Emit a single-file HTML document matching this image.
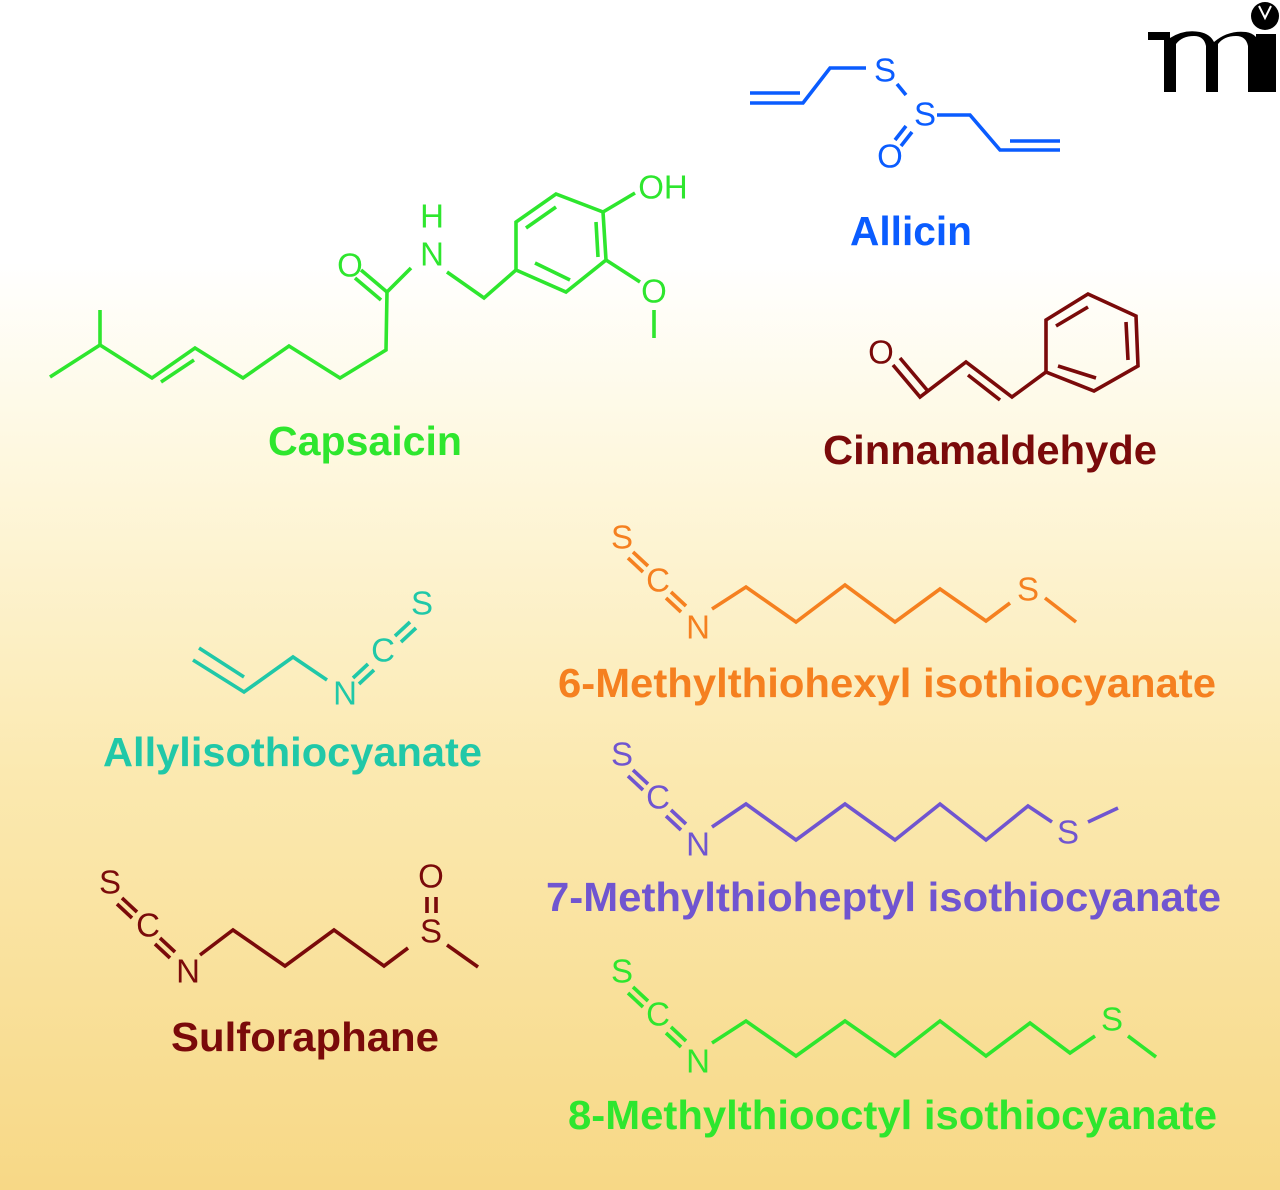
<!DOCTYPE html>
<html><head><meta charset="utf-8"><style>
html,body{margin:0;padding:0}
body{width:1280px;height:1190px;overflow:hidden;background:linear-gradient(to bottom,#ffffff 0%,#ffffff 22%,#fef8e0 38%,#fbe9b0 65%,#f7d886 100%)}
svg{display:block}
.a{font-family:"Liberation Sans",sans-serif;font-size:33px;text-anchor:middle;dominant-baseline:central}
.l{font-family:"Liberation Sans",sans-serif;font-size:41px;font-weight:bold}
</style></head><body>
<svg width="1280" height="1190" viewBox="0 0 1280 1190" fill="none" stroke-width="3.6" stroke-linejoin="miter" stroke-linecap="butt">
<!-- logo -->
<g fill="#000" stroke="none">
<path d="M1148,32 h22 v6 q14,-9 30,-6 q10,2 14,10 q14,-12 32,-10 q12,2 14,14 v46 h-12 v-46 q-2,-10 -12,-10 q-12,0 -18,8 v48 h-12 v-46 q-2,-10 -12,-10 q-12,0 -18,8 v48 h-12 v-52 h-16z"/>
<rect x="1256" y="34" width="20" height="58"/>
<circle cx="1265" cy="16" r="14"/>
</g>
<path d="M1259,6 l6,12 l6,-12" stroke="#fff" stroke-width="2"/>
<!-- Allicin -->
<g stroke="#0a5cff">
<path d="M750,103 H803 L830,68 H866"/><path d="M750,93 H800"/>
<path d="M897,84 L906,95"/>
<path d="M937,115 H970 L1000,150 H1060"/><path d="M1010,141 H1060"/>
<path d="M906,126 L895,140 M912,132 L901,146"/>
</g>
<g fill="#0a5cff" class="a"><text x="885" y="70">S</text><text x="925" y="114">S</text><text x="890" y="156">O</text></g>
<text class="l" x="850" y="245" textLength="122" lengthAdjust="spacingAndGlyphs" fill="#0a5cff">Allicin</text>
<!-- Capsaicin -->
<g stroke="#2ee62e">
<path d="M50,377 L100,345 L152,378 L195,348 L243,378 L289,346 L340,378 L386,350 L387,292 L411,268"/>
<path d="M100,345 V310"/><path d="M161,382 L194,360"/>
<path d="M387,292 L361,270 M381,300 L355,278"/>
<path d="M447,272 L484,298 L516,270"/>
<path d="M516,270 L516,222 L556,194 L603,212 L606,260 L566,292 Z"/>
<path d="M526,228 L556,207 M596,222 L598,257 M570,280 L535,263"/>
<path d="M603,212 L635,193 M606,260 L640,282 M654,310 V338"/>
</g>
<g fill="#2ee62e" class="a"><text x="432" y="254">N</text><text x="432" y="216">H</text><text x="350" y="265">O</text><text x="663" y="187">OH</text><text x="654" y="291">O</text></g>
<text class="l" x="268" y="455" textLength="194" lengthAdjust="spacingAndGlyphs" fill="#2ee62e">Capsaicin</text>
<!-- Cinnamaldehyde -->
<g stroke="#7a0a0a">
<path d="M893,365 L920,397 L966,362 L1012,397 L1046,372"/>
<path d="M1046,372 L1046,320 L1088,294 L1136,316 L1138,366 L1094,391 Z"/>
<path d="M900,358 L927,390"/><path d="M968,375 L1000,400"/>
<path d="M1056,326 L1088,307 M1126,322 L1128,360 M1096,378 L1058,366"/>
</g>
<text class="a" x="881" y="352" fill="#7a0a0a">O</text>
<text class="l" x="823" y="464" textLength="334" lengthAdjust="spacingAndGlyphs" fill="#7a0a0a">Cinnamaldehyde</text>
<!-- Allylisothiocyanate -->
<g stroke="#20c8a8">
<path d="M193,660 L244,692 L293,657 L327,680"/><path d="M199,648 L244,677"/>
<path d="M353,678 L368,664 M359,684 L374,670"/>
<path d="M395,636 L410,622 M401,642 L416,628"/>
</g>
<g fill="#20c8a8" class="a"><text x="345" y="693">N</text><text x="383" y="650">C</text><text x="422" y="603">S</text></g>
<text class="l" x="103" y="766" textLength="379" lengthAdjust="spacingAndGlyphs" fill="#20c8a8">Allylisothiocyanate</text>
<!-- Sulforaphane -->
<g stroke="#7a0a0a">
<path d="M122,898 L137,912 M117,904 L132,918"/>
<path d="M160,938 L175,952 M155,944 L170,958"/>
<path d="M200,955 L233,930 L285,966 L334,930 L384,966 L408,948"/>
<path d="M447,945 L478,967"/>
<path d="M427,897 V913 M436,897 V913"/>
</g>
<g fill="#7a0a0a" class="a"><text x="110" y="882">S</text><text x="148" y="925">C</text><text x="188" y="971">N</text><text x="431" y="931">S</text><text x="431" y="876">O</text></g>
<text class="l" x="171" y="1051" textLength="268" lengthAdjust="spacingAndGlyphs" fill="#7a0a0a">Sulforaphane</text>
<!-- 6-Methylthiohexyl -->
<g stroke="#f58020">
<path d="M633,552 L648,566 M628,558 L643,572"/>
<path d="M671,592 L686,606 M666,598 L681,612"/>
<path d="M712,609 L746,587 L796,622 L845,585 L895,622 L940,589 L986,621 L1010,603"/>
<path d="M1045,598 L1076,622"/>
</g>
<g fill="#f58020" class="a"><text x="622" y="537">S</text><text x="658" y="580">C</text><text x="698" y="627">N</text><text x="1028" y="589">S</text></g>
<text class="l" x="558" y="697" textLength="658" lengthAdjust="spacingAndGlyphs" fill="#f58020">6-Methylthiohexyl isothiocyanate</text>
<!-- 7-Methylthioheptyl -->
<g stroke="#7055d0">
<path d="M633,770 L648,784 M628,776 L643,790"/>
<path d="M671,810 L686,824 M666,816 L681,830"/>
<path d="M712,827 L746,804 L796,840 L845,804 L895,840 L940,804 L986,840 L1028,806 L1052,822"/>
<path d="M1088,822 L1118,808"/>
</g>
<g fill="#7055d0" class="a"><text x="622" y="754">S</text><text x="658" y="797">C</text><text x="698" y="844">N</text><text x="1068" y="832">S</text></g>
<text class="l" x="546" y="911" textLength="675" lengthAdjust="spacingAndGlyphs" fill="#7055d0">7-Methylthioheptyl isothiocyanate</text>
<!-- 8-Methylthiooctyl -->
<g stroke="#2ee62e">
<path d="M633,987 L648,1001 M628,993 L643,1007"/>
<path d="M671,1027 L686,1041 M666,1033 L681,1047"/>
<path d="M712,1043 L746,1021 L796,1056 L845,1021 L895,1056 L940,1021 L986,1056 L1030,1023 L1070,1053 L1095,1036"/>
<path d="M1128,1036 L1156,1057"/>
</g>
<g fill="#2ee62e" class="a"><text x="622" y="971">S</text><text x="658" y="1014">C</text><text x="698" y="1061">N</text><text x="1112" y="1019">S</text></g>
<text class="l" x="568" y="1129" textLength="649" lengthAdjust="spacingAndGlyphs" fill="#2ee62e">8-Methylthiooctyl isothiocyanate</text>
</svg>
</body></html>
